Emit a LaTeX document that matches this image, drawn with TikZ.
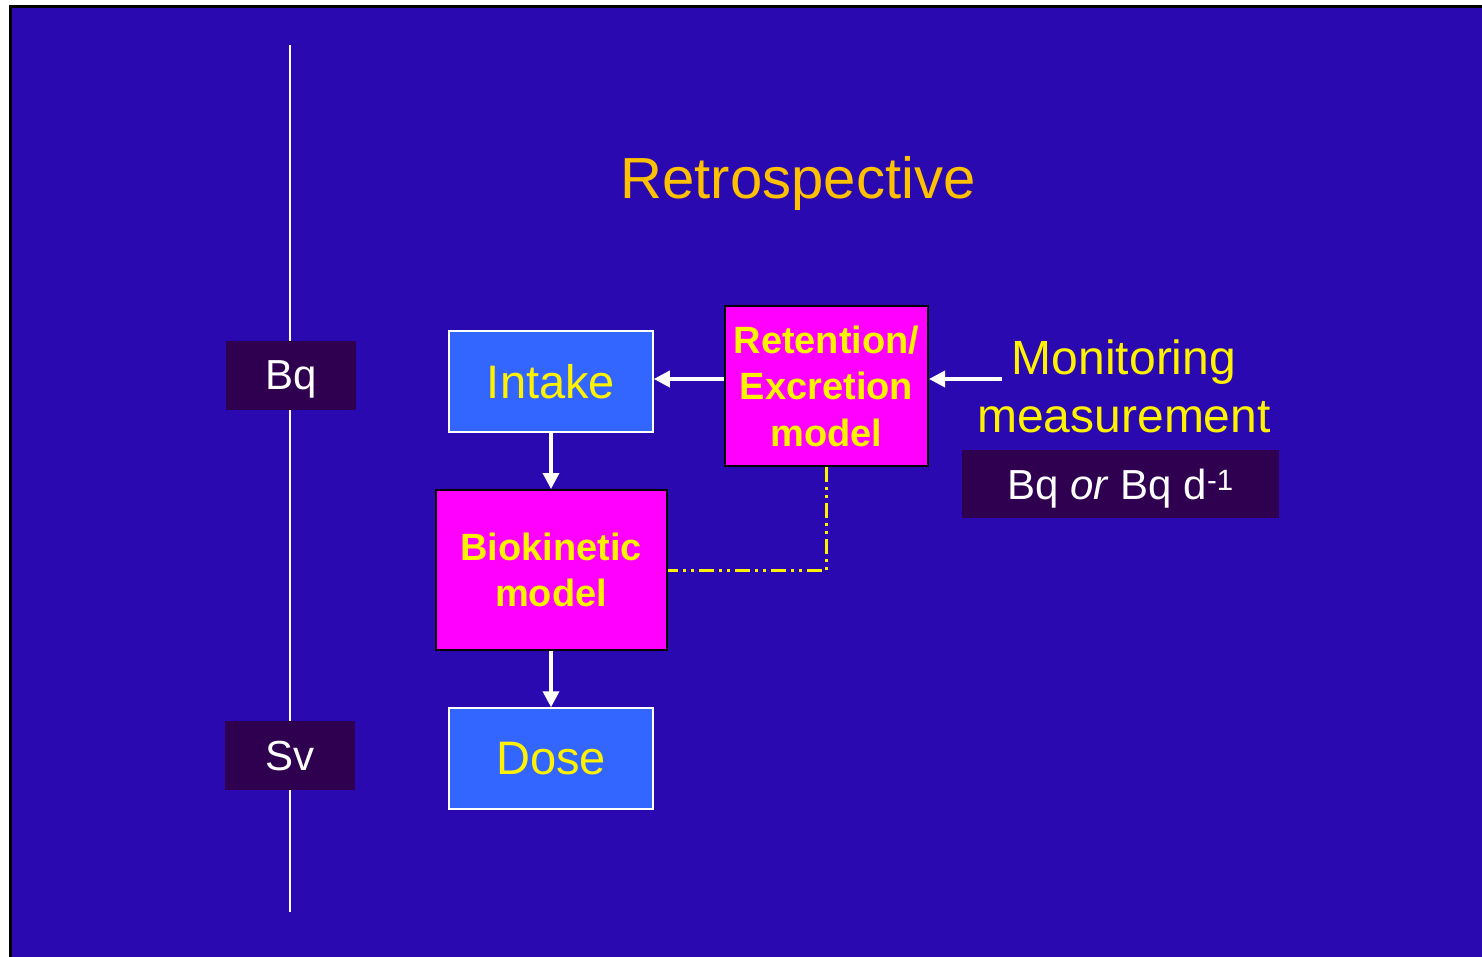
\documentclass[tikz,border=0pt]{standalone}
\usepackage{fontspec}
\setmainfont{Liberation Sans}
\usepackage{xcolor}
\usetikzlibrary{arrows.meta}

\definecolor{slideblue}{RGB}{42,10,176}
\definecolor{boxblue}{RGB}{51,102,255}
\definecolor{boxmagenta}{RGB}{255,0,255}
\definecolor{unitpurple}{RGB}{48,0,80}
\definecolor{titleorange}{RGB}{255,192,0}

\begin{document}
\begin{tikzpicture}[x=1pt,y=-1pt,
    bluebox/.style={draw=white,line width=1.5pt,fill=boxblue,text=yellow,
      minimum width=204pt,minimum height=101pt,font=\fontsize{47}{56}\selectfont},
    modelbox/.style={draw=black,line width=2pt,fill=boxmagenta,text=yellow,align=center,
      inner sep=0pt,font=\bfseries\fontsize{38}{46.5}\selectfont},
    unitbox/.style={fill=unitpurple,text=white,inner sep=0pt,minimum height=69pt,
      text depth=0pt,font=\fontsize{42}{50}\selectfont},
    flow/.style={white,line width=3.5pt,-{Triangle[length=16pt,width=16pt]}},
    feedback/.style={yellow,line width=3pt,
      dash pattern=on 15pt off 5pt on 3pt off 5pt on 3pt off 5pt}]
          \useasboundingbox (0,0) rectangle (1482,956);
          \fill[white] (0,0) rectangle (1482,956);
          \draw[black,line width=3pt,fill=slideblue] (10.5,6.5) rectangle (1495,970);

          % % units axis
          \coordinate (axtop) at (290,45);
          \coordinate (axbot) at (290,912);
          \draw[white,line width=1.5pt] (axtop) -- (axbot);
          \node[unitbox,minimum width=130pt] (bq) at (291,375.5) {Bq};
          \node[unitbox,minimum width=130pt] (sv) at (290,755.5) {Sv};

          \node[text=titleorange,font=\fontsize{58}{68}\selectfont] (title) at (798,183) {Retrospective};

          \node[bluebox] (intake) at (551,381.5) {Intake};
          \node[modelbox,minimum width=203pt,minimum height=160pt] (retention) at (826.5,386)
            {Retention/\\Excretion\\model};
          \node[modelbox,minimum width=231pt,minimum height=160pt] (biokinetic) at (551,570)
            {Biokinetic\\model};
          \node[bluebox] (dose) at (551,758.5) {Dose};

          \node[text=yellow,align=center,font=\fontsize{48}{58}\selectfont] (monitoring) at (1124,386)
            {Monitoring\\measurement};
          \node[unitbox,minimum width=317pt,minimum height=68pt] (bqd) at (1120.5,484)
            {Bq \textit{or} Bq d\textsuperscript{-1}};
          \coordinate (meas) at (1002,379);

          % % arrows
          \draw[flow] (meas) -- (retention.east |- meas);
          \draw[flow] (retention.west |- meas) -- (intake.east |- meas);
          \draw[flow] (intake.south) -- (biokinetic.north);
          \draw[flow] (biokinetic.south) -- (dose.north);
          \draw[feedback] (retention.south) |- (biokinetic.east);
        \end{tikzpicture}
\end{document}
